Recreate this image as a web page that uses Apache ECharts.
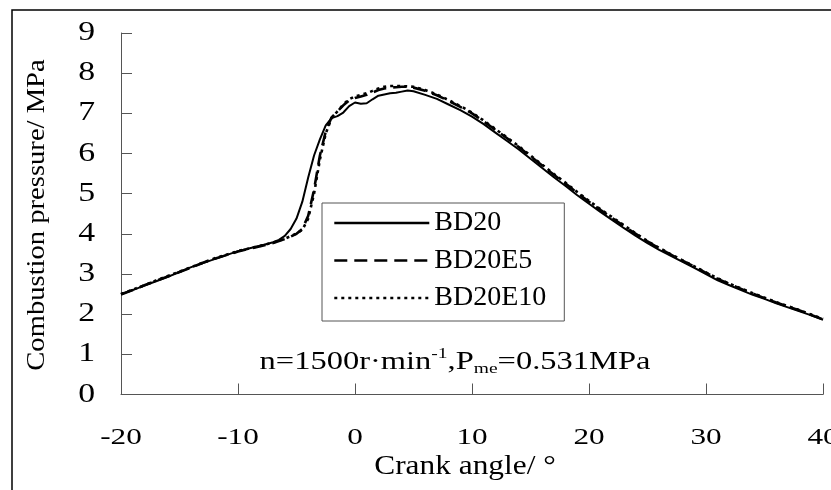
<!DOCTYPE html>
<html>
<head>
<meta charset="utf-8">
<script src="https://cdn.jsdelivr.net/npm/echarts@6/dist/echarts.min.js"></script>
<style>
html,body{margin:0;padding:0;background:#fff;}
#chart{width:831px;height:490px;}
</style>
</head>
<body>
<div id="chart"></div>
<script>
// ---- data ----
const crankAngle = [-20,-19,-18,-17,-16,-15,-14,-13,-12,-11,-10,-9,-8,-7,
  -6.5,-6,-5.5,-5,-4.5,-4,-3.5,-3,-2.5,-2,-1.5,-1,-0.5,0,0.5,1,1.5,2,2.5,3,3.5,4,4.5,5,
  6,7,8,9,10,11,12,13,14,15,16,17,18,19,20,21,22,23,24,25,26,27,28,29,30,31,32,33,34,35,36,37,38,39,40];
const bd20 = [2.50,2.60,2.71,2.82,2.93,3.05,3.17,3.27,3.37,3.47,3.57,3.64,3.71,3.79,
  3.85,3.95,4.12,4.38,4.80,5.40,5.95,6.35,6.70,6.88,6.93,7.02,7.18,7.27,7.24,7.25,7.35,7.44,7.47,7.50,7.51,7.54,7.57,7.55,
  7.46,7.36,7.22,7.08,6.92,6.73,6.52,6.31,6.10,5.87,5.64,5.41,5.19,4.96,4.75,4.54,4.34,4.14,3.95,3.77,3.60,3.45,3.30,3.15,3.00,2.84,2.72,2.60,2.48,2.38,2.27,2.17,2.07,1.97,1.86];
const bd20e5 = [2.49,2.60,2.72,2.83,2.94,3.05,3.16,3.28,3.38,3.47,3.56,3.63,3.70,3.77,
  3.82,3.87,3.93,4.00,4.12,4.45,5.10,5.95,6.55,6.90,7.05,7.20,7.32,7.38,7.42,7.46,7.52,7.58,7.62,7.64,7.65,7.66,7.66,7.64,
  7.56,7.45,7.31,7.16,7.00,6.80,6.59,6.38,6.16,5.93,5.70,5.47,5.25,5.02,4.80,4.59,4.39,4.19,4.00,3.81,3.64,3.48,3.33,3.18,3.03,2.88,2.75,2.63,2.51,2.40,2.29,2.19,2.09,1.98,1.87];
const bd20e10 = [2.50,2.61,2.72,2.84,2.95,3.06,3.17,3.28,3.39,3.48,3.57,3.64,3.71,3.78,
  3.83,3.88,3.94,4.01,4.10,4.38,5.00,5.85,6.50,6.88,7.05,7.22,7.35,7.42,7.46,7.50,7.56,7.62,7.66,7.68,7.68,7.68,7.67,7.66,
  7.58,7.47,7.33,7.18,7.02,6.82,6.61,6.40,6.18,5.95,5.72,5.49,5.27,5.04,4.82,4.61,4.41,4.21,4.01,3.82,3.65,3.49,3.34,3.19,3.04,2.89,2.76,2.64,2.52,2.41,2.30,2.20,2.10,1.99,1.88];
const seriesNames = ['BD20','BD20E5','BD20E10'];
const xTicks = [-20,-10,0,10,20,30,40];
const yTicks = [0,1,2,3,4,5,6,7,8,9];
const xName = 'Crank angle/ °';
const yName = 'Combustion pressure/ MPa';

const FONT = '"Liberation Serif","Times New Roman",serif';
const chart = echarts.init(document.getElementById('chart'));
const pairs = arr => crankAngle.map((x,i)=>[x, arr[i]]);

const option = {
  animation:false,
  backgroundColor:'#fff',
  color:['#000','#000','#000'],
  grid:{left:121, top:33, right:8, bottom:95.5, containLabel:false},
  xAxis:{type:'value', min:-20, max:40, interval:10,
    axisLine:{show:true, onZero:false, lineStyle:{color:'#555', width:1}},
    axisTick:{show:true, inside:true, length:11, lineStyle:{color:'#555'}},
    axisLabel:{show:false}, splitLine:{show:false}},
  yAxis:{type:'value', min:0, max:9, interval:1,
    axisLine:{show:true, onZero:false, lineStyle:{color:'#555', width:1}},
    axisTick:{show:true, inside:true, length:11, lineStyle:{color:'#555'}},
    axisLabel:{show:false}, splitLine:{show:false}},
  legend:{
    data:seriesNames, orient:'vertical', left:322, top:203,
    padding:[6,18,9,11], itemWidth:95, itemHeight:20, itemGap:9.5,
    borderColor:'#555', borderWidth:1, backgroundColor:'#fff',
    itemStyle:{opacity:0, borderWidth:0},
    lineStyle:{width:2.6},
    textStyle:{fontFamily:FONT, fontSize:28, color:'#000'},
    selectedMode:false
  },
  series:[
    {name:'BD20', type:'line', data:pairs(bd20), showSymbol:false, symbol:'none',
      itemStyle:{color:'#000'}, lineStyle:{color:'#000', width:2, type:'solid'}, z:3},
    {name:'BD20E5', type:'line', data:pairs(bd20e5), showSymbol:false, symbol:'none',
      itemStyle:{color:'#000'}, lineStyle:{color:'#000', width:2.6, type:[13,7]}, z:3},
    {name:'BD20E10', type:'line', data:pairs(bd20e10), showSymbol:false, symbol:'none',
      itemStyle:{color:'#000'}, lineStyle:{color:'#000', width:2.6, type:[3,4]}, z:3},
    {name:'xLabels', type:'custom', silent:true, clip:false, z:10,
      data:xTicks.map(v=>[v,0]),
      renderItem:(p,api)=>{
        const pt = api.coord([api.value(0), api.value(1)]);
        return {type:'text', x:pt[0], y:pt[1]+43, scaleX:1.3,
          style:{text:String(api.value(0)), fontFamily:FONT, fontSize:24, fill:'#000', align:'center', verticalAlign:'middle'}};
      }},
    {name:'yLabels', type:'custom', silent:true, clip:false, z:10,
      data:yTicks.map(v=>[-20,v]),
      renderItem:(p,api)=>{
        const pt = api.coord([api.value(0), api.value(1)]);
        return {type:'text', x:pt[0]-26, y:pt[1], scaleX:1.25,
          style:{text:String(api.value(1)), fontFamily:FONT, fontSize:27, fill:'#000', align:'right', verticalAlign:'middle'}};
      }}
  ],
  graphic:[
    {type:'rect', shape:{x:12, y:10, width:840, height:500}, style:{fill:null, stroke:'#000', lineWidth:1.5}, silent:true, z:-1},
    {type:'text', x:37, y:215, rotation:Math.PI/2, scaleX:1.1,
      style:{text:yName, fontFamily:FONT, fontSize:26, fill:'#000', align:'center', verticalAlign:'middle'}},
    {type:'text', x:465, y:467, scaleX:1.12,
      style:{text:xName, fontFamily:FONT, fontSize:28, fill:'#000', align:'center', verticalAlign:'middle'}},
    {type:'text', x:455, y:362, scaleX:1.3,
      style:{text:'{a|n=1500r·min}{sup|-1}{a|,P}{sub|me}{a|=0.531MPa}', align:'center', verticalAlign:'middle',
        rich:{
          a:{fontFamily:FONT, fontSize:25, fill:'#000', lineHeight:30},
          sup:{fontFamily:FONT, fontSize:15, fill:'#000', verticalAlign:'top'},
          sub:{fontFamily:FONT, fontSize:15, fill:'#000', verticalAlign:'bottom'}
        }}}
  ]
};
chart.setOption(option);
</script>
</body>
</html>
